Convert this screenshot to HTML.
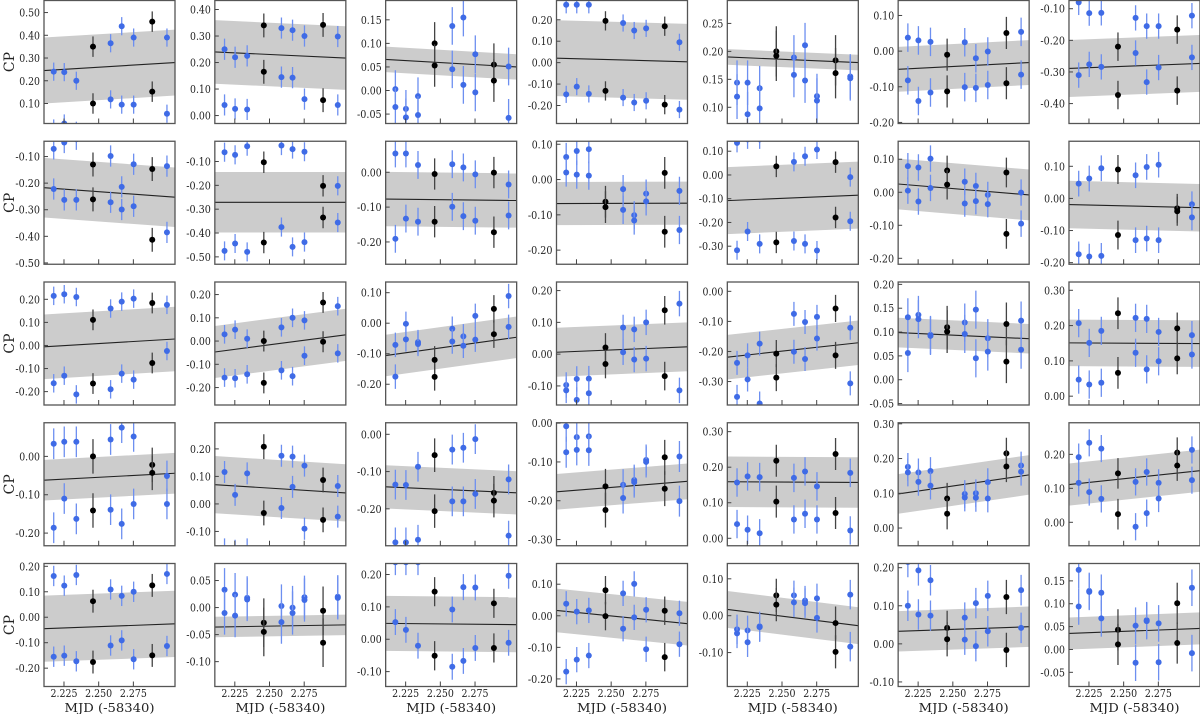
<!DOCTYPE html>
<html><head><meta charset="utf-8">
<style>
html,body{margin:0;padding:0;background:#fff;}
svg{display:block;}
text{font-family:"DejaVu Serif","Liberation Serif",serif;fill:#222;}
</style></head>
<body>
<svg id="fig" width="1200" height="714" viewBox="0 0 1200 714"></svg>
<script>
const times = [2.2176,2.2252,2.2339,2.2459,2.2586,2.2666,2.2752,2.2886,2.2992];
const blackIdx = [3,7];
const xTicks = [2.225,2.250,2.275];
const xTickLabels = ["2.225","2.250","2.275"];
const yMin = [0.012,-0.030,-0.070,-0.284,0.071,-0.203,-0.463,
 -0.505,-0.531,-0.264,-0.240,-0.376,-0.218,-0.205,
 -0.258,-0.275,-0.268,-0.160,-0.378,-0.053,-0.025,
 -0.233,-0.152,-0.299,-0.316,-0.021,-0.051,-0.069,
 -0.272,-0.146,-0.146,-0.224,-0.192,-0.112,-0.081];
const yMax = [0.553,0.434,0.191,0.290,0.291,0.142,-0.074,
 -0.0425,-0.015,0.089,0.1085,0.142,0.1545,0.178,
 0.275,0.254,0.135,0.227,0.031,0.205,0.3235,
 0.0877,0.295,0.031,0.001,0.325,0.303,0.293,
 0.211,0.0815,0.234,0.1656,0.1415,0.211,0.188];
const tickStep = [0.1,0.1,0.05,0.1,0.05,0.1,0.1,
 0.1,0.1,0.1,0.1,0.1,0.1,0.1,
 0.1,0.1,0.1,0.1,0.1,0.05,0.1,
 0.1,0.1,0.1,0.1,0.1,0.1,0.1,
 0.1,0.05,0.1,0.1,0.1,0.1,0.05];
const lineStart = [0.245,0.24,0.066,0.021,0.19,-0.051,-0.289,
 -0.217,-0.271,-0.077,-0.068,-0.108,0.025,-0.019,
 -0.006,-0.047,-0.106,0.006,-0.219,0.099,0.151,
 -0.062,0.070,-0.141,-0.177,0.159,0.098,0.111,
 -0.045,-0.036,0.049,0.017,0.017,0.033,0.035];
const lineEnd = [0.28,0.217,0.05,0.004,0.18,-0.032,-0.273,
 -0.253,-0.271,-0.081,-0.067,-0.085,-0.008,-0.029,
 0.028,0.027,-0.046,0.023,-0.171,0.086,0.149,
 -0.044,0.040,-0.157,-0.150,0.157,0.153,0.152,
 -0.026,-0.032,0.045,-0.025,-0.027,0.045,0.046];
const bandHalf = [0.145,0.12,0.027,0.177,0.014,0.063,0.09,
 0.112,0.127,0.078,0.061,0.141,0.077,0.074,
 0.14,0.112,0.068,0.077,0.074,0.031,0.066,
 0.053,0.104,0.058,0.046,0.071,0.057,0.062,
 0.13,0.019,0.085,0.069,0.05,0.053,0.035];
const upper = [
 [0.24,0.238,0.20,0.35,0.365,0.44,0.39,0.46,0.39],
 [0.25,0.22,0.225,0.34,0.33,0.322,0.30,0.342,0.298],
 [0.003,-0.039,-0.012,0.10,0.137,0.155,0.077,0.055,0.051],
 [0.27,0.27,0.27,0.195,0.185,0.15,0.16,0.17,0.095],
 [0.144,0.144,0.134,0.20,0.189,0.211,0.120,0.184,0.155],
 [0.038,0.030,0.026,-0.010,0.025,-0.020,-0.001,0.051,0.054],
 [-0.08,-0.114,-0.113,-0.220,-0.129,-0.155,-0.155,-0.166,-0.122],
 [-0.071,-0.047,-0.035,-0.130,-0.098,-0.214,-0.129,-0.147,-0.136],
 [-0.061,-0.072,-0.036,-0.103,-0.033,-0.048,-0.059,-0.202,-0.202],
 [0.054,0.054,0.021,-0.005,0.023,0.014,-0.006,-0.001,-0.035],
 [0.064,0.081,0.086,-0.063,-0.027,-0.101,-0.040,0.019,-0.032],
 [0.135,0.15,0.15,0.036,0.055,0.079,0.107,0.054,-0.009],
 [0.079,0.075,0.102,0.066,0.032,0.019,-0.008,0.060,-0.001],
 [0.046,0.062,0.094,0.090,0.072,0.098,0.105,-0.031,-0.018],
 [0.215,0.222,0.210,0.111,0.160,0.190,0.203,0.184,0.176],
 [0.029,0.049,0.010,0.0,0.059,0.100,0.089,0.166,0.150],
 [-0.071,-0.002,-0.062,-0.120,-0.018,-0.043,0.024,0.047,0.089],
 [-0.097,-0.078,-0.077,0.021,0.084,0.078,0.100,0.138,0.159],
 [-0.238,-0.213,-0.174,-0.207,-0.075,-0.102,-0.085,-0.057,-0.121],
 [0.131,0.136,0.094,0.110,0.120,0.147,0.087,0.117,0.124],
 [0.207,0.151,0.185,0.235,0.222,0.219,0.182,0.192,0.173],
 [0.033,0.038,0.038,0.0,0.044,0.075,0.052,-0.022,-0.051],
 [0.116,0.033,0.111,0.208,0.175,0.172,0.139,0.087,0.065],
 [-0.135,-0.136,-0.087,-0.056,-0.041,-0.036,-0.013,-0.157,-0.121],
 [-0.008,-0.036,-0.034,-0.163,-0.159,-0.147,-0.095,-0.088,-0.086],
 [0.157,0.174,0.172,0.218,0.170,0.188,0.146,0.237,0.184],
 [0.176,0.160,0.164,0.085,0.098,0.100,0.132,0.215,0.180],
 [0.192,0.234,0.217,0.144,0.119,0.148,0.116,0.205,0.213],
 [0.162,0.124,0.166,0.063,0.109,0.084,0.100,0.125,0.170],
 [0.033,0.024,0.018,-0.028,0.003,0.0,0.019,-0.006,0.020],
 [0.238,0.238,0.238,0.147,0.092,0.161,0.160,0.111,0.196],
 [0.038,0.013,0.017,0.081,0.071,0.101,0.019,0.016,0.008],
 [-0.037,-0.040,-0.029,0.055,0.055,0.041,0.047,-0.020,0.057],
 [0.215,0.193,0.167,0.042,0.069,0.107,0.126,0.123,0.141],
 [0.174,0.128,0.124,0.043,0.052,0.064,0.057,0.101,0.135]
];
const lower = [
 [-0.01,0.012,-0.02,0.10,0.118,0.095,0.095,0.152,0.055],
 [0.04,0.025,0.023,0.165,0.145,0.143,0.062,0.058,0.04],
 [-0.035,-0.057,-0.052,0.053,0.045,0.012,-0.004,0.021,-0.058],
 [-0.148,-0.112,-0.146,-0.132,-0.163,-0.186,-0.178,-0.196,-0.219],
 [0.119,0.0875,0.098,0.192,0.158,0.148,0.112,0.161,0.152],
 [-0.082,-0.140,-0.116,-0.113,-0.101,-0.103,-0.095,-0.090,-0.066],
 [-0.310,-0.276,-0.284,-0.373,-0.240,-0.332,-0.286,-0.359,-0.254],
 [-0.222,-0.263,-0.263,-0.261,-0.272,-0.299,-0.287,-0.413,-0.385],
 [-0.475,-0.444,-0.479,-0.440,-0.375,-0.458,-0.438,-0.335,-0.356],
 [-0.191,-0.133,-0.142,-0.142,-0.099,-0.126,-0.139,-0.172,-0.124],
 [0.020,0.014,0.011,-0.078,-0.086,-0.116,-0.062,-0.148,-0.143],
 [-0.317,-0.238,-0.290,-0.284,-0.278,-0.290,-0.318,-0.179,-0.195],
 [0.005,-0.028,0.013,0.023,-0.034,-0.027,-0.036,-0.126,-0.095],
 [-0.174,-0.181,-0.179,-0.114,-0.130,-0.125,-0.130,-0.040,-0.059],
 [-0.164,-0.131,-0.212,-0.165,-0.190,-0.122,-0.148,-0.076,-0.024],
 [-0.157,-0.160,-0.143,-0.180,-0.126,-0.151,-0.063,-0.003,-0.053],
 [-0.175,-0.053,-0.068,-0.176,-0.060,-0.074,-0.054,-0.036,-0.012],
 [-0.114,-0.144,-0.123,-0.031,0.006,-0.017,-0.014,-0.069,-0.114],
 [-0.351,-0.293,-0.373,-0.287,-0.201,-0.225,-0.157,-0.213,-0.306],
 [0.056,0.127,0.092,0.101,0.096,0.045,0.059,0.038,0.063],
 [0.047,0.033,0.038,0.066,0.123,0.076,0.099,0.107,0.118],
 [-0.186,-0.110,-0.163,-0.141,-0.139,-0.176,-0.124,-0.043,-0.124],
 [-0.165,-0.17,-0.165,-0.033,-0.015,0.062,-0.090,-0.058,-0.046],
 [-0.290,-0.29,-0.283,-0.206,-0.180,-0.180,-0.160,-0.178,-0.272],
 [-0.075,-0.069,-0.070,-0.224,-0.193,-0.152,-0.100,-0.169,-0.201],
 [0.040,0.024,0.014,0.103,0.053,0.069,0.053,0.071,0.022],
 [0.160,0.133,0.122,0.041,0.088,0.087,0.085,0.177,0.162],
 [0.116,0.089,0.069,0.024,-0.013,0.027,0.070,0.167,0.124],
 [-0.155,-0.151,-0.173,-0.176,-0.111,-0.091,-0.165,-0.150,-0.113],
 [-0.010,-0.015,0.015,-0.045,-0.027,-0.010,0.014,-0.065,0.018],
 [0.053,0.029,-0.020,-0.051,-0.085,-0.067,-0.027,-0.027,-0.011],
 [-0.177,-0.139,-0.126,-0.001,-0.041,-0.005,-0.106,-0.131,-0.090],
 [-0.048,-0.072,-0.031,0.030,0.036,0.034,-0.006,-0.098,-0.084],
 [0.100,0.077,0.074,0.012,0.011,-0.006,0.033,-0.016,0.042],
 [0.094,0.126,0.068,0.011,-0.029,0.062,-0.028,0.014,-0.008]
];
const errBlue = 0.04;
const errBlack = 0.045;

const NS = "http://www.w3.org/2000/svg";
const svg = document.getElementById('fig');
const X0 = 2.2106, X1 = 2.3050;
const PW = 131, PH = 123;
function mk(tag, attrs, parent){
  const e = document.createElementNS(NS, tag);
  for (const k in attrs) e.setAttribute(k, attrs[k]);
  parent.appendChild(e);
  return e;
}
function fmt(v){ return Math.abs(v) < 1e-9 ? "0.00" : v.toFixed(2); }
function labelWidth(s){
  let w = 0;
  for (const ch of s) w += (ch === '.') ? 2.8 : (ch === '-') ? 3.8 : 6.0;
  return w;
}

for (let p = 0; p < 35; p++) {
  const r = Math.floor(p / 7), c = p % 7;
  const L = 44 + 170.83 * c, T = 140.75 * r + 0.5;
  const xs = t => L + (t - X0) / (X1 - X0) * PW;
  const ys = v => T + (yMax[p] - v) / (yMax[p] - yMin[p]) * PH;
  const g = mk('g', {}, svg);
  
  
  const cid = 'clip' + p;
  const cp = mk('clipPath', {id: cid}, g);
  mk('rect', {x: L, y: T, width: PW, height: PH}, cp);
  const inner = mk('g', {'clip-path': 'url(#' + cid + ')'}, g);
  const band = mk('polygon', {
    points: [xs(X0)+','+ys(lineStart[p]+bandHalf[p]), xs(X1)+','+ys(lineEnd[p]+bandHalf[p]),
             xs(X1)+','+ys(lineEnd[p]-bandHalf[p]), xs(X0)+','+ys(lineStart[p]-bandHalf[p])].join(' '),
    fill: '#cccccc'}, inner);
  
  
  const ln = mk('line', {x1: xs(X0), y1: ys(lineStart[p]), x2: xs(X1), y2: ys(lineEnd[p]), stroke: '#222', 'stroke-width': 1.1}, inner);
  
  
  for (let i = 0; i < times.length; i++) {
    const blk = blackIdx.includes(i);
    const e = blk ? errBlack : errBlue;
    for (const v of [upper[p][i], lower[p][i]]) {
      const x = xs(times[i]);
      const eb = mk('line', {x1: x, x2: x, y1: ys(v + e), y2: ys(v - e),
        stroke: blk ? '#444' : '#6d8ff0', 'stroke-width': 1.3}, inner);
      
      
      const pt = mk('circle', {cx: x, cy: ys(v), r: 3, fill: blk ? '#000' : '#3f6be6'}, inner);
      
      
    }
  }
  const fr = mk('rect', {x: L, y: T, width: PW, height: PH, fill: 'none', stroke: '#555', 'stroke-width': 1.3}, g);
  
  
  const st = tickStep[p];
  for (let k = Math.ceil(yMin[p] / st - 1e-6); k * st <= yMax[p] + 1e-9; k++) {
    const v = k * st, y = ys(v);
    if (y < T - 0.5 || y > T + PH + 0.5) continue;
    mk('line', {x1: L, x2: L + 4, y1: y, y2: y, stroke: '#444', 'stroke-width': 1}, g);
    const s = fmt(v);
    const tx = mk('text', {x: L - 4, y: y + 4, 'text-anchor': 'end', 'font-size': 11,
      textLength: labelWidth(s), lengthAdjust: 'spacingAndGlyphs'}, g);
    tx.textContent = s;
    
    
  }
  for (let k = 0; k < xTicks.length; k++) {
    const x = xs(xTicks[k]);
    mk('line', {x1: x, x2: x, y1: T + PH, y2: T + PH - 5, stroke: '#444', 'stroke-width': 1}, g);
    if (r === 4) {
      const tx = mk('text', {x: x, y: 697, 'text-anchor': 'middle', 'font-size': 11,
        textLength: 27, lengthAdjust: 'spacingAndGlyphs'}, g);
      tx.textContent = xTickLabels[k];
      
      
    }
  }
  if (r === 4) {
    const xl = mk('text', {x: L + PW / 2, y: 712, 'text-anchor': 'middle', 'font-size': 12.5,
      textLength: 90, lengthAdjust: 'spacingAndGlyphs'}, g);
    xl.textContent = 'MJD (-58340)';
    
    
  }
  if (c === 0) {
    const cy = T + PH / 2;
    const yl = mk('text', {x: 0, y: 0, 'text-anchor': 'middle', 'font-size': 14, transform: 'translate(14,' + cy + ') rotate(-90)'}, g);
    yl.textContent = 'CP';
    
    
  }
}
</script>
</body></html>
